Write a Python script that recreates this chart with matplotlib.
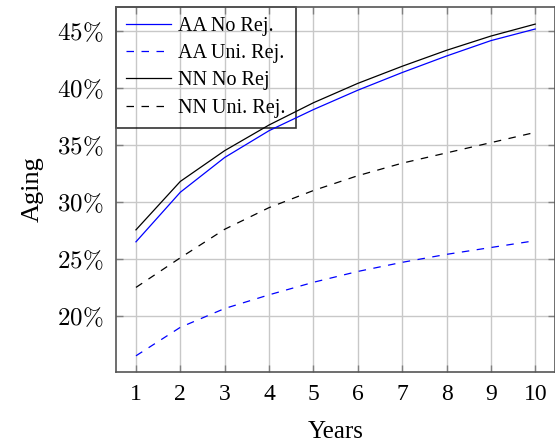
import numpy as np
import matplotlib
matplotlib.use("Agg")
import matplotlib.pyplot as plt

plt.rcParams['font.family'] = ['Liberation Serif', 'DejaVu Serif']
plt.rcParams['mathtext.fontset'] = 'cm'

# data
years = [1, 2, 3, 4, 5, 6, 7, 8, 9, 10]
aa_no_rej = [26.5, 30.85, 33.9, 36.25, 38.1, 39.8, 41.35, 42.8, 44.15, 45.17]
aa_uni_rej = [16.5, 19.0, 20.65, 21.85, 22.95, 23.9, 24.7, 25.4, 26.0, 26.6]
nn_no_rej = [27.55, 31.8, 34.5, 36.75, 38.7, 40.4, 41.9, 43.3, 44.55, 45.6]
nn_uni_rej = [22.5, 25.1, 27.6, 29.5, 31.0, 32.3, 33.4, 34.3, 35.2, 36.1]
y_ticks = [20, 25, 30, 35, 40, 45]

fig = plt.figure(figsize=(5.55, 4.42), dpi=100)
ax = fig.add_axes([116 / 555, 70 / 442, 439.2 / 555, 365 / 442])

dash = (0, (6, 6))
ax.plot(years, aa_no_rej, color='blue', lw=0.9, label='AA No Rej.')
ax.plot(years, aa_uni_rej, color='blue', lw=0.9, ls=dash, label='AA Uni. Rej.')
ax.plot(years, nn_no_rej, color='black', lw=0.9, label='NN No Rej')
ax.plot(years, nn_uni_rej, color='black', lw=0.9, ls=dash, label='NN Uni. Rej.')

ax.set_xlim(0.55, 10.45)
ax.set_ylim(15.08, 47.1)
ax.set_xticks(years)
ax.set_xticklabels([str(y) for y in years], fontsize=17)
ax.set_yticks(y_ticks)
ax.set_yticklabels([r'$%d\%%$' % v for v in y_ticks], fontsize=18)

ax.grid(True, color='#c8c8c8', lw=1.0)
ax.set_axisbelow(True)
ax.tick_params(direction='in', length=5, width=1.0, color='#808080',
               top=True, right=True, pad=9)
for s in ax.spines.values():
    s.set_color('#555555')
    s.set_linewidth(1.2)

ax.set_xlabel('Years', fontsize=18, labelpad=11)
ax.set_ylabel('Aging', fontsize=19, labelpad=10)

# legend is see-through in the reference: grid and curves show inside it
leg = ax.legend(loc='upper left', bbox_to_anchor=(0, 1), borderaxespad=0,
                fontsize=14.5, fancybox=False, facecolor='none', edgecolor='black',
                handlelength=2.25, handletextpad=0.33, labelspacing=0.4,
                borderpad=0.5)
leg.get_frame().set_linewidth(1.2)
leg.set_zorder(1.5)

fig.savefig('out.png', dpi=100)
